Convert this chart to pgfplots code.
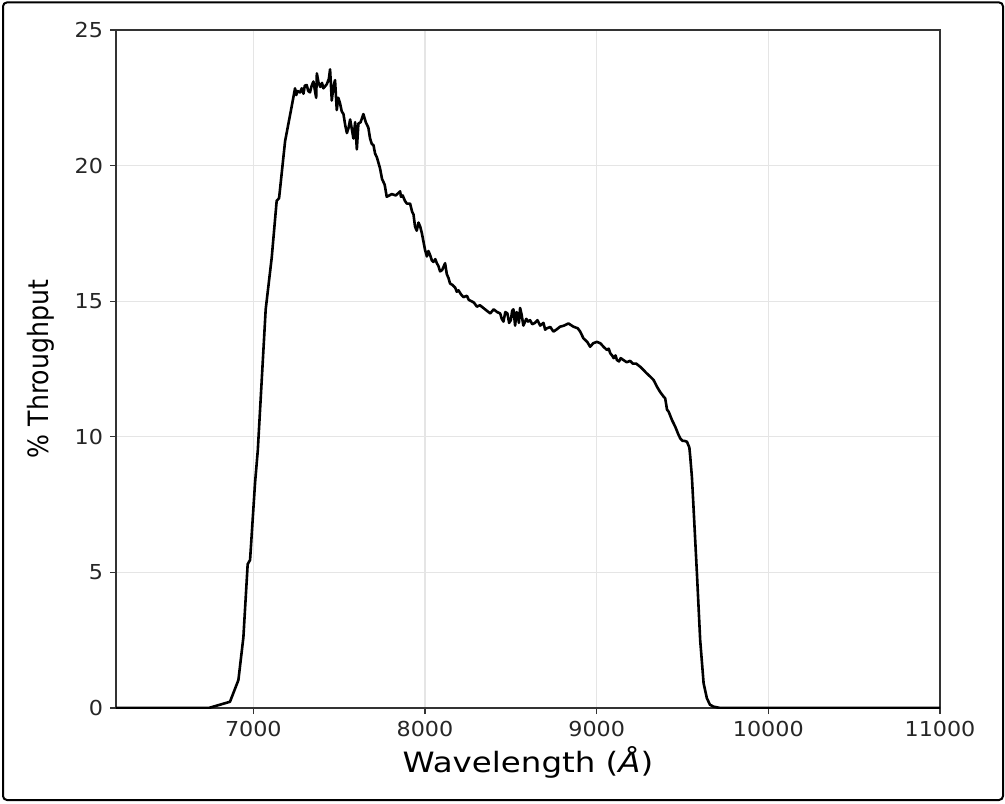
\documentclass[border=0pt]{standalone}
\usepackage{fontspec}
\setmainfont{DejaVu Sans}
\usepackage{graphicx}
\usepackage{pgfplots}
\pgfplotsset{compat=1.18}
\pgfplotstableread{
x y
6200 0
6740 0
6864 0.23
6913 1.03
6942 2.6
6967 5.3
6981 5.46
7010 8.3
7026 9.5
7072 14.7
7107 16.6
7136 18.7
7150 18.8
7185 20.9
7224 22.2
7243 22.85
7250 22.6
7258 22.75
7272 22.7
7282 22.85
7292 22.65
7300 22.95
7311 22.97
7320 22.75
7330 22.7
7340 22.95
7350 23.1
7358 22.8
7366 22.5
7370 23.4
7380 23.05
7390 22.9
7400 23.05
7408 22.85
7428 23.0
7440 23.2
7447 23.55
7457 22.4
7466 22.9
7476 23.15
7486 22.05
7495 22.5
7505 22.3
7515 22.0
7525 21.9
7535 21.5
7545 21.2
7555 21.4
7564 21.7
7575 21.3
7583 21.0
7593 21.6
7603 20.6
7612 21.55
7625 21.6
7641 21.9
7655 21.6
7670 21.4
7680 21.0
7690 20.8
7700 20.75
7709 20.45
7720 20.3
7738 19.9
7750 19.5
7765 19.3
7777 18.85
7807 18.95
7830 18.9
7855 19.05
7860 18.85
7870 18.9
7883 18.7
7894 18.6
7913 18.6
7925 18.3
7933 18.2
7942 17.75
7952 17.6
7962 17.9
7972 17.75
7982 17.5
7991 17.2
8000 16.9
8011 16.65
8020 16.85
8030 16.7
8040 16.5
8049 16.45
8060 16.55
8069 16.4
8078 16.3
8088 16.1
8100 16.15
8117 16.4
8127 16.0
8137 15.85
8146 15.65
8160 15.6
8176 15.5
8185 15.35
8195 15.4
8210 15.25
8224 15.15
8244 15.2
8255 15.05
8270 15.0
8285 14.95
8302 14.8
8320 14.85
8340 14.75
8360 14.65
8380 14.55
8400 14.7
8420 14.6
8438 14.55
8447 14.35
8457 14.25
8468 14.6
8480 14.55
8490 14.2
8500 14.3
8508 14.65
8515 14.7
8525 14.1
8533 14.6
8540 14.5
8547 14.2
8554 14.75
8563 14.5
8573 14.1
8590 14.35
8600 14.25
8612 14.3
8625 14.15
8640 14.2
8655 14.3
8671 14.1
8690 14.2
8700 13.95
8710 14.0
8730 14.05
8748 13.88
8765 13.95
8787 14.06
8810 14.1
8836 14.18
8850 14.12
8865 14.06
8890 14.0
8904 13.88
8923 13.63
8945 13.5
8962 13.32
8980 13.45
9001 13.5
9021 13.45
9040 13.32
9060 13.2
9070 13.25
9079 13.08
9090 13.0
9099 12.9
9110 13.0
9118 12.83
9130 12.78
9140 12.9
9156 12.83
9175 12.75
9195 12.8
9210 12.7
9230 12.7
9254 12.58
9273 12.46
9290 12.35
9312 12.22
9331 12.1
9351 11.85
9370 11.65
9390 11.48
9399 11.42
9410 11.0
9419 10.93
9440 10.6
9458 10.37
9475 10.1
9487 9.94
9500 9.85
9510 9.85
9526 9.82
9540 9.6
9545 9.27
9555 8.5
9564 7.42
9584 4.97
9603 2.5
9623 0.91
9642 0.36
9660 0.12
9681 0.05
9720 0
11000 0
}\thru
\begin{document}
\begin{tikzpicture}[x=1pt,y=1pt]
\useasboundingbox (0,0) rectangle (502.5,401.5);
\draw[line width=1pt, rounded corners=2pt] (1.5,1.5) rectangle (501.5,400.3);
\begin{axis}[
  at={(58pt,47.5pt)}, anchor=south west,
  scale only axis, width=412pt, height=339pt,
  xmin=6200, xmax=11000, ymin=0, ymax=25,
  xtick={7000,8000,9000,10000,11000},
  ytick={0,5,10,15,20,25},
  xtick pos=left, ytick pos=left,
  grid=major,
  grid style={black!10, line width=0.6pt},
  tick align=outside,
  major tick length=3pt,
  axis line style={black!80, line width=0.6pt},
  tick style={black!80, line width=0.6pt},
  ticklabel style={font=\fontsize{10.3}{12}\selectfont, text=black!85},
  xticklabel={\scalebox{1.08}[1]{\pgfmathprintnumber{\tick}}},
  yticklabel={\scalebox{1.08}[1]{\pgfmathprintnumber{\tick}}},
  /pgf/number format/assume math mode=true,
  scaled ticks=false,
  /pgf/number format/1000 sep={},
  xlabel={\scalebox{1.16}[1]{Wavelength (\textit{Å})}},
  ylabel={\scalebox{0.9}[1]{\% Throughput}},
  label style={font=\fontsize{14}{16}\selectfont},
  xlabel style={at={(axis description cs:0.5,-0.0953)}, anchor=base},
  ylabel style={at={(axis description cs:-0.091,0.5)}, anchor=center},
]
\addplot[black, line width=1.3pt, line join=round, mark=none] table[x=x,y=y] {\thru};
\end{axis}
\end{tikzpicture}
\end{document}
